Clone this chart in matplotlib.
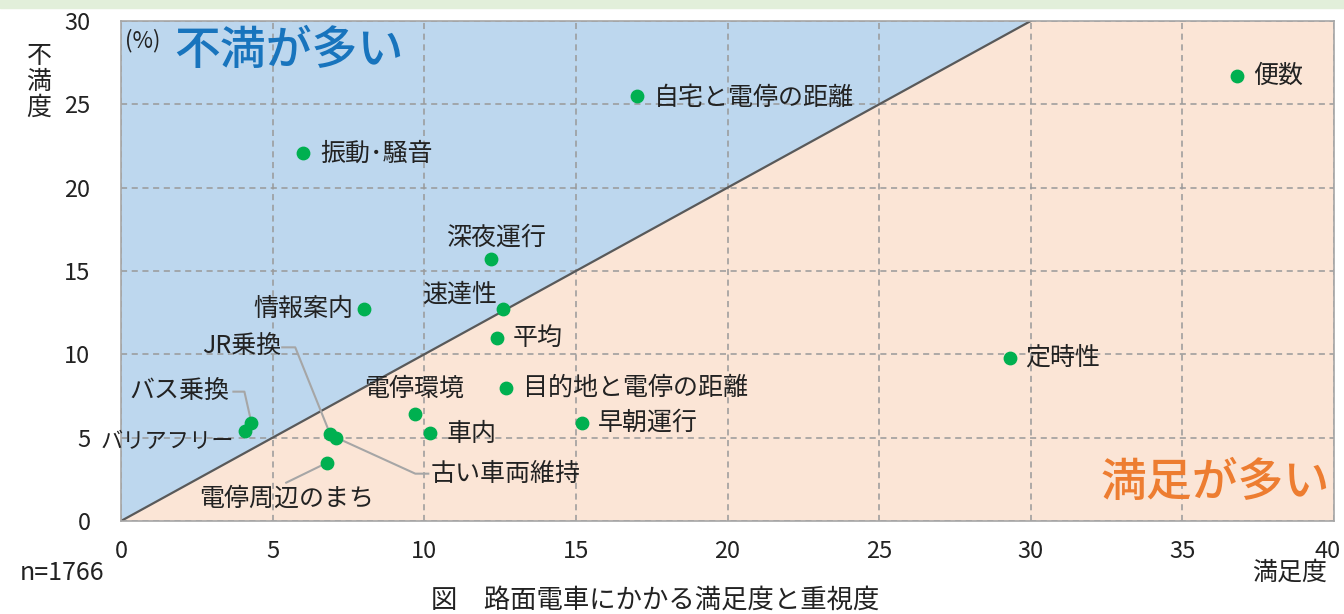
import matplotlib
matplotlib.use("Agg")
import matplotlib.pyplot as plt
import matplotlib.transforms as mtransforms
from matplotlib.patches import Polygon, Rectangle

plt.rcParams['font.family'] = ['Noto Sans CJK JP', 'DejaVu Sans']

# items, satisfaction (x, %) and dissatisfaction (y, %)
items = ["便数", "自宅と電停の距離", "振動･騒音", "深夜運行", "速達性", "情報案内",
         "平均", "定時性", "目的地と電停の距離", "電停環境", "早朝運行", "車内",
         "バス乗換", "バリアフリー", "JR乗換", "古い車両維持", "電停周辺のまち"]
satisfaction = [36.8, 17.0, 6.0, 12.2, 12.6, 8.0,
                12.4, 29.3, 12.7, 9.7, 15.2, 10.2,
                4.3, 4.1, 6.9, 7.1, 6.8]
dissatisfaction = [26.7, 25.5, 22.1, 15.7, 12.7, 12.7,
                   11.0, 9.8, 8.0, 6.4, 5.9, 5.3,
                   5.9, 5.4, 5.2, 5.0, 3.5]

x_ticks = [0, 5, 10, 15, 20, 25, 30, 35, 40]
y_ticks = [0, 5, 10, 15, 20, 25, 30]

# label placement: offset in pixels from the dot, alignment, font size
label_style = {
    "便数": ((16, 0), "left", 18),
    "自宅と電停の距離": ((17, -2), "left", 18),
    "振動･騒音": ((17, -1), "left", 18),
    "深夜運行": ((5, 22), "center", 18),
    "速達性": ((-6, 15), "right", 18),
    "情報案内": ((-10, 0), "right", 18),
    "平均": ((16, 0), "left", 18),
    "定時性": ((16, 0), "left", 18),
    "目的地と電停の距離": ((17, 0), "left", 18),
    "電停環境": ((-1, 25), "center", 18),
    "早朝運行": ((16, 0), "left", 18),
    "車内": ((16, -1), "left", 18),
    "バス乗換": ((-22, 32), "right", 18),
    "バリアフリー": ((-11, -11), "right", 16),
    "JR乗換": ((-49, 88), "right", 18),
    "古い車両維持": ((94, -36), "left", 18),
    "電停周辺のまち": ((-41, -36), "center", 18),
}

# leader lines (pixel offsets from the dot)
leaders = {
    "バス乗換": [(0, 0), (-7, 31), (-18, 31)],
    "JR乗換": [(0, 0), (-35, 87), (-48, 87)],
    "古い車両維持": [(0, 0), (79, -36), (92, -36)],
    "電停周辺のまち": [(0, 0), (-41, -20)],
}

fig = plt.figure(figsize=(13.44, 6.14), dpi=100)
fig.patches.append(Rectangle((0, 1 - 8 / 614), 1, 8 / 614, transform=fig.transFigure,
                             color="#e2efda", zorder=0))
ax = fig.add_axes([121 / 1344, 93 / 614, 1213 / 1344, 500 / 614])
ax.set_xlim(0, 40)
ax.set_ylim(0, 30)
ax.set_facecolor("#fbe5d6")

# upper-left triangle = more dissatisfied
ax.add_patch(Polygon([(0, 0), (30, 30), (0, 30)], closed=True, color="#bdd7ee", zorder=0))
ax.plot([0, 30], [0, 30], color="#595959", linewidth=1.6, zorder=2)

ax.set_xticks(x_ticks)
ax.set_yticks(y_ticks)
ax.grid(True, linestyle=(0, (4, 3)), color="#999999", linewidth=1.1, zorder=1)
ax.set_axisbelow(True)
ax.tick_params(length=0, labelsize=17, colors="#222222")
ax.tick_params(axis="x", pad=14)
ax.tick_params(axis="y", pad=22)
for s in ax.spines.values():
    s.set_color("#a6a6a6")
    s.set_linewidth(1.2)

# keep the last x label inside the picture
fig.canvas.draw()
last = ax.get_xticklabels()[-1]
last.set_transform(last.get_transform() +
                   mtransforms.ScaledTranslation(-6 / 100, 0, fig.dpi_scale_trans))

ax.scatter(satisfaction, dissatisfaction, s=80, color="#00b050", zorder=4)

for name, xv, yv in zip(items, satisfaction, dissatisfaction):
    (dx, dy), ha, fs = label_style[name]
    ax.annotate(name, (xv, yv), xytext=(dx * 0.72, dy * 0.72), textcoords="offset points",
                ha=ha, va="center", fontsize=fs, color="#222222", zorder=5)

for name, pts in leaders.items():
    i = items.index(name)
    base = ax.transData.transform((satisfaction[i], dissatisfaction[i]))
    xs, ys = [], []
    for px, py in pts:
        d = ax.transData.inverted().transform((base[0] + px, base[1] + py))
        xs.append(d[0])
        ys.append(d[1])
    ax.plot(xs, ys, color="#a6a6a6", linewidth=1.5, zorder=3)

ax.text(0.003, 0.985, "(%)", transform=ax.transAxes, fontsize=16, va="top", ha="left",
        color="#222222")
ax.text(0.044, 0.988, "不満が多い", transform=ax.transAxes, fontsize=33, va="top",
        ha="left", color="#1874bd", fontweight="medium")
ax.text(0.997, 0.03, "満足が多い", transform=ax.transAxes, fontsize=33, va="bottom",
        ha="right", color="#ed7d31", fontweight="medium")

fig.text(39 / 1344, 1 - 82 / 614, "不\n満\n度", fontsize=18, ha="center", va="center",
         linespacing=1.0, color="#222222")
fig.text(20 / 1344, 1 - 573 / 614, "n=1766", fontsize=18, ha="left", va="center",
         color="#222222")
fig.text(1327 / 1344, 1 - 573 / 614, "満足度", fontsize=18, ha="right", va="center",
         color="#222222")
fig.text(655 / 1344, 1 - 600 / 614, "図　路面電車にかかる満足度と重視度", fontsize=19,
         ha="center", va="center", color="#222222")

fig.savefig("out.png", dpi=100)
